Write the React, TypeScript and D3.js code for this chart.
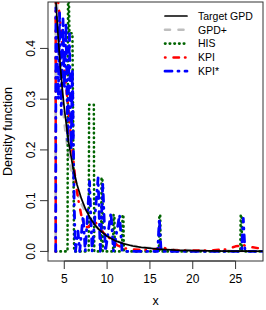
import React, { useRef, useEffect } from 'react';
import * as d3 from 'd3';

// axis limits (R-style, 4% padding already applied)
const xLimits = [3.1, 28.2];
const yLimits = [-0.0189, 0.4915];
const xTicks = [5, 10, 15, 20, 25];
const yTicks = [0, 0.1, 0.2, 0.3, 0.4];

// Target GPD
const targetGpd = [
  [4.0, 0.5], [4.25, 0.431], [4.5, 0.373], [4.75, 0.324], [5.0, 0.282], [5.5, 0.216],
  [6.0, 0.167], [6.5, 0.131], [7.0, 0.104], [7.5, 0.0826], [8.0, 0.0664], [8.5, 0.0538],
  [9.0, 0.0439], [10, 0.0298], [11, 0.0207], [12, 0.0147], [13, 0.0106], [14, 0.0078],
  [16, 0.0044], [18, 0.0026], [20, 0.0016], [22, 0.001], [24, 0.0007], [26, 0.00047], [28.2, 0.0003],
];

// GPD+
const gpdPlus = [
  [2.5, 0], [4.0, 0], [4.0, 0.55], [4.25, 0.45], [4.5, 0.37], [4.75, 0.305], [5.0, 0.255],
  [5.5, 0.188], [6.0, 0.145], [6.5, 0.115], [7.0, 0.094], [7.5, 0.077], [8.0, 0.064],
  [8.5, 0.053], [9.0, 0.044], [10, 0.031], [11, 0.0215], [12, 0.0155], [13, 0.0112],
  [14, 0.0084], [16, 0.005], [18, 0.0031], [20, 0.002], [22, 0.0014], [24, 0.001], [26, 0.0007], [28.2, 0.0005],
];

// HIS
const his = [
  [4.0, 0], [5.38, 0], [5.45, 0.6], [5.6, 0.43], [5.95, 0.43], [6.15, 0],
  [7.85, 0], [7.9, 0.289], [8.45, 0.289], [8.5, 0],
  [9.3, 0], [9.35, 0.145], [9.45, 0.145], [9.5, 0],
  [10.7, 0], [10.75, 0.072], [10.85, 0.072], [10.9, 0],
  [11.75, 0], [11.8, 0.072], [11.9, 0.072], [11.95, 0],
  [16.05, 0], [16.1, 0.072], [16.2, 0.072], [16.25, 0],
  [25.55, 0], [25.6, 0.072], [25.7, 0.072], [25.75, 0], [28.2, 0],
];

// KPI
const kpi = [
  [4.0, 0], [4.0, 0.6], [4.3, 0.49], [4.6, 0.44], [5.0, 0.36], [5.4, 0.295], [5.7, 0.24],
  [6.0, 0.19], [6.3, 0.14], [6.6, 0.105], [7.0, 0.07], [7.4, 0.048], [7.8, 0.048],
  [8.2, 0.056], [8.6, 0.058], [9.0, 0.05], [9.5, 0.038], [10.0, 0.03], [10.6, 0.022],
  [11.2, 0.012], [12, 0.006], [13, 0.004], [14, 0.003], [15, 0.003], [16, 0.006],
  [16.5, 0.008], [17, 0.005], [18, 0.002], [20, 0.002], [22, 0.002], [24, 0.004],
  [25, 0.01], [26, 0.012], [27, 0.008], [28.2, 0.005],
];

// KPI*
const kpiStar = [
  [4.0, 0], [4.02, 0.48], [4.3, 0.3], [4.45, 0.47], [4.65, 0.27], [4.85, 0.46], [5.0, 0.32],
  [5.2, 0.45], [5.4, 0.22], [5.6, 0.43], [5.8, 0.2], [5.95, 0.36], [6.15, 0.1], [6.3, 0],
  [6.6, 0.04], [6.8, 0], [7.2, 0.07], [7.45, 0], [7.95, 0.138], [8.25, 0],
  [8.95, 0.145], [9.2, 0], [9.5, 0.135], [9.8, 0], [10.45, 0.076], [10.75, 0],
  [11.45, 0.072], [11.75, 0], [15.9, 0], [16.1, 0.065], [16.3, 0],
  [25.7, 0], [25.9, 0.065], [26.1, 0], [28.2, 0],
];

const legendLabels = ['Target GPD', 'GPD+', 'HIS', 'KPI', 'KPI*'];

function App() {
  const svgRef = useRef(null);

  useEffect(() => {
    const svg = d3.select(svgRef.current);
    svg.selectAll('*').remove();

    const width = 266;
    const height = 310;
    const margin = { top: 2, right: 3, bottom: 49, left: 48 };
    const font = 'Liberation Sans, Arial, Helvetica, sans-serif';

    const x = d3.scaleLinear().domain(xLimits).range([margin.left, width - margin.right]);
    const y = d3.scaleLinear().domain(yLimits).range([height - margin.bottom, margin.top]);

    svg.attr('width', width).attr('height', height);

    svg.append('defs').append('clipPath').attr('id', 'plotclip')
      .append('rect')
      .attr('x', margin.left).attr('y', margin.top)
      .attr('width', width - margin.left - margin.right)
      .attr('height', height - margin.top - margin.bottom);

    const line = d3.line().x(d => x(d[0])).y(d => y(d[1]));

    const styles = [
      { data: gpdPlus, color: '#bebebe', w: 2.6, dash: '5,8.5' },
      { data: his, color: '#006400', w: 2.6, dash: '0.5,4.2' },
      { data: kpi, color: '#ff0000', w: 2.5, dash: '0.5,8,5.5,6' },
      { data: kpiStar, color: '#0000ff', w: 2.8, dash: '7,6,1,6' },
      { data: targetGpd, color: '#000000', w: 1.7, dash: null },
    ];

    const plot = svg.append('g').attr('clip-path', 'url(#plotclip)');
    styles.forEach(s => {
      plot.append('path')
        .attr('d', line(s.data))
        .attr('fill', 'none')
        .attr('stroke', s.color)
        .attr('stroke-width', s.w)
        .attr('stroke-linecap', 'round')
        .attr('stroke-linejoin', 'round')
        .attr('stroke-dasharray', s.dash);
    });

    // box
    svg.append('rect')
      .attr('x', margin.left).attr('y', margin.top)
      .attr('width', width - margin.left - margin.right)
      .attr('height', height - margin.top - margin.bottom)
      .attr('fill', 'none').attr('stroke', '#333').attr('stroke-width', 1);

    // x axis
    const xa = svg.append('g').attr('transform', `translate(0, ${height - margin.bottom})`);
    xa.append('line').attr('x1', x(xTicks[0])).attr('x2', x(xTicks[xTicks.length - 1]))
      .attr('stroke', '#333');
    xTicks.forEach(t => {
      xa.append('line').attr('x1', x(t)).attr('x2', x(t)).attr('y1', 0).attr('y2', 8)
        .attr('stroke', '#333');
      xa.append('text').attr('x', x(t)).attr('y', 22).attr('text-anchor', 'middle')
        .style('font-family', font).style('font-size', '12px').text(t);
    });

    // y axis
    const ya = svg.append('g').attr('transform', `translate(${margin.left}, 0)`);
    ya.append('line').attr('y1', y(yTicks[0])).attr('y2', y(yTicks[yTicks.length - 1]))
      .attr('stroke', '#333');
    yTicks.forEach(t => {
      ya.append('line').attr('x1', 0).attr('x2', -8).attr('y1', y(t)).attr('y2', y(t))
        .attr('stroke', '#333');
      ya.append('text')
        .attr('transform', `translate(-13, ${y(t)}) rotate(-90)`)
        .attr('text-anchor', 'middle')
        .style('font-family', font).style('font-size', '12px')
        .text(d3.format('.1f')(t));
    });

    svg.append('text')
      .attr('x', (margin.left + width - margin.right) / 2)
      .attr('y', 305)
      .attr('text-anchor', 'middle')
      .style('font-family', font).style('font-size', '12.5px')
      .text('x');

    svg.append('text')
      .attr('transform', `translate(12, ${(margin.top + height - margin.bottom) / 2}) rotate(-90)`)
      .attr('text-anchor', 'middle')
      .style('font-family', font).style('font-size', '12.5px')
      .text('Density function');

    // legend
    const leg = svg.append('g');
    legendLabels.forEach((label, i) => {
      const s = i === 0 ? styles[4] : styles[i - 1];
      const cy = 16 + i * 13.8;
      leg.append('line')
        .attr('x1', 165).attr('x2', 187).attr('y1', cy).attr('y2', cy)
        .attr('stroke', s.color).attr('stroke-width', s.w)
        .attr('stroke-linecap', 'round')
        .attr('stroke-dasharray', s.dash);
      leg.append('text').attr('x', 198).attr('y', cy + 3.8)
        .style('font-family', font).style('font-size', '10.5px')
        .text(label);
    });
  }, []);

  return <svg ref={svgRef} style={{ position: 'absolute', left: 0, top: 0 }}></svg>;
}

export default App;
